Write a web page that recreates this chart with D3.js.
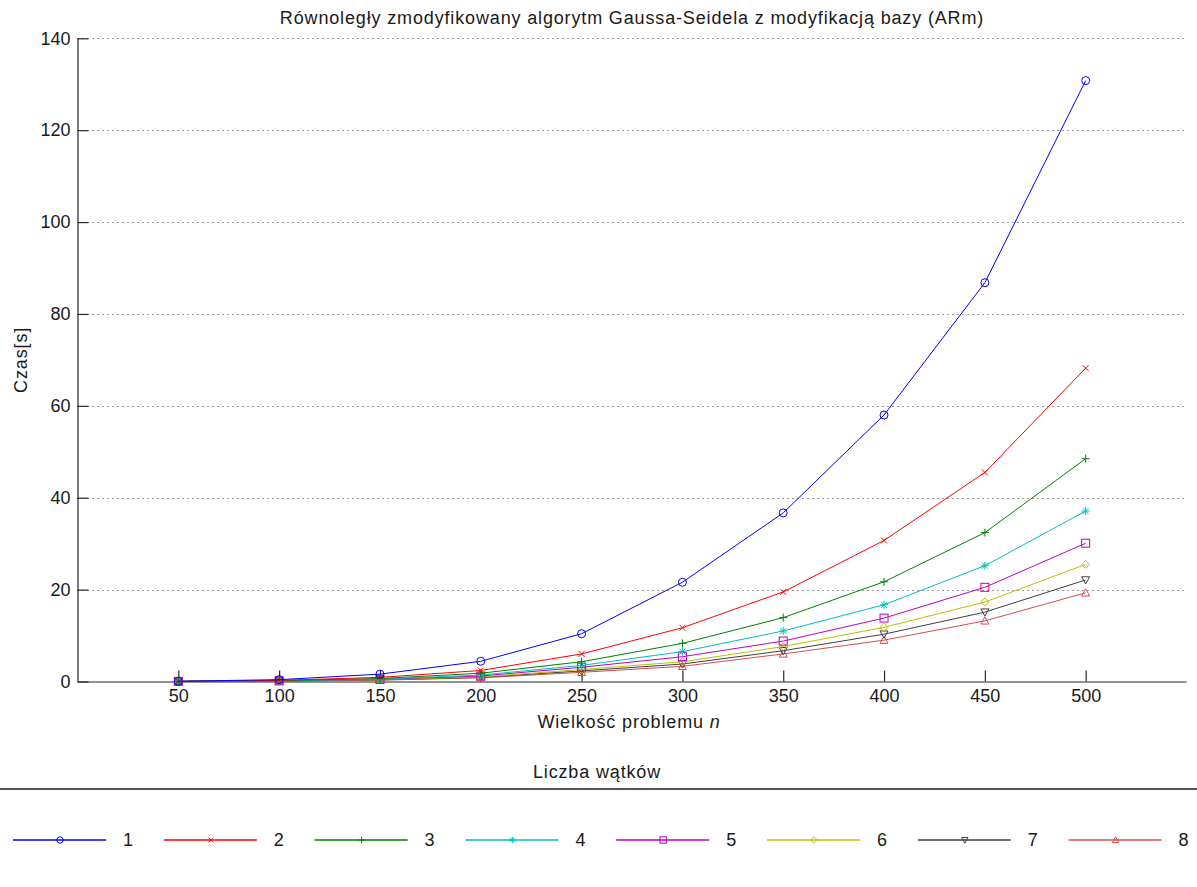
<!DOCTYPE html>
<html>
<head>
<meta charset="utf-8">
<script src="https://cdn.jsdelivr.net/npm/d3@7"></script>
<style>
  html, body { margin: 0; padding: 0; background: #fff; }
  svg { display: block; font-family: "Liberation Sans", Arial, sans-serif; }
  text { fill: #1a1a1a; }
  .lbl { font-size: 18px; letter-spacing: 0.85px; }
  .num { font-size: 18px; }
</style>
</head>
<body>
<svg id="chart" width="1197" height="887"></svg>
<script>
// Problem sizes (n)
const sizes = [50, 100, 150, 200, 250, 300, 350, 400, 450, 500];
// Thread counts shown in the legend
const threads = ["1", "2", "3", "4", "5", "6", "7", "8"];
// Run times [s] for each thread count
const t1 = [0.05, 0.4, 1.6, 4.4, 10.4, 21.6, 36.7, 58.0, 86.8, 130.8];
const t2 = [0.03, 0.25, 0.9, 2.4, 6.0, 11.7, 19.5, 30.7, 45.5, 68.2];
const t3 = [0.03, 0.2, 0.65, 1.8, 4.3, 8.3, 13.9, 21.7, 32.4, 48.5];
const t4 = [0.02, 0.15, 0.5, 1.4, 3.5, 6.5, 11.0, 16.7, 25.2, 37.1];
const t5 = [0.02, 0.13, 0.45, 1.2, 3.1, 5.4, 8.8, 13.8, 20.5, 30.1];
const t6 = [0.02, 0.12, 0.4, 1.0, 2.6, 4.3, 7.6, 11.8, 17.3, 25.5];
const t7 = [0.02, 0.1, 0.35, 0.9, 2.3, 3.8, 6.7, 10.3, 15.1, 22.1];
const t8 = [0.02, 0.1, 0.3, 0.8, 2.0, 3.3, 6.0, 9.0, 13.2, 19.3];
const yTicks = [0, 20, 40, 60, 80, 100, 120, 140];

const seriesValues = [t1, t2, t3, t4, t5, t6, t7, t8];
const colors = ["#0000ff", "#ff0000", "#008000", "#00bfbf", "#bf00bf", "#bfbf00", "#404040", "#d64c4c"];
const shapes = ["circle", "x", "plus", "star", "square", "diamond", "tridown", "triup"];

const svg = d3.select("#chart");
const W = 1197;
const plotLeft = 77.5, plotRight = 1186.5, plotTop = 38.3, plotBottom = 681.5;

const x = d3.scaleLinear().domain([0, 550]).range([plotLeft, plotRight]);
const y = d3.scaleLinear().domain([0, 140]).range([plotBottom, plotTop]);

// Title
svg.append("text")
  .attr("class", "lbl")
  .attr("x", (plotLeft + plotRight) / 2).attr("y", 24)
  .attr("text-anchor", "middle")
  .text("Równoległy zmodyfikowany algorytm Gaussa-Seidela z modyfikacją bazy (ARm)");

// Dotted horizontal grid
svg.append("g")
  .selectAll("line")
  .data(yTicks.filter(d => d > 0))
  .join("line")
  .attr("x1", plotLeft).attr("x2", plotRight)
  .attr("y1", d => Math.round(y(d)) + 0.5).attr("y2", d => Math.round(y(d)) + 0.5)
  .attr("stroke", "#333")
  .attr("stroke-width", 1)
  .attr("stroke-dasharray", "1,4");

// Axes
const yAxis = svg.append("g")
  .attr("transform", `translate(${plotLeft},0)`)
  .call(d3.axisLeft(y).tickValues(yTicks).tickSize(-11).tickSizeOuter(0).tickPadding(7));
const xAxis = svg.append("g")
  .attr("transform", `translate(0,${plotBottom})`)
  .call(d3.axisBottom(x).tickValues(sizes).tickSize(-11).tickSizeOuter(0).tickPadding(8));
// Extend the bottom axis line across the whole plot width
xAxis.select(".domain").attr("d", `M${plotLeft},0.5H${plotRight}`);
yAxis.select(".domain").attr("d", `M0.5,${plotTop}V${plotBottom}`);
[xAxis, yAxis].forEach(a => {
  a.selectAll(".domain, .tick line").attr("stroke", "#262626").attr("stroke-width", 1.2);
  a.selectAll("text").attr("class", "num").attr("fill", "#1a1a1a");
  a.attr("font-family", null).attr("font-size", null);
});

// Axis labels
svg.append("text")
  .attr("class", "lbl")
  .attr("transform", `translate(27,${(plotTop + plotBottom) / 2}) rotate(-90)`)
  .attr("text-anchor", "middle")
  .text("Czas[s]");
const xl = svg.append("text")
  .attr("class", "lbl")
  .attr("x", 629).attr("y", 728)
  .attr("text-anchor", "middle");
xl.append("tspan").text("Wielkość problemu ");
xl.append("tspan").style("font-style", "italic").text("n");

// Marker drawing
function drawMarker(g, shape, color, r) {
  const s = g.append("g");
  const common = el => el.attr("fill", "none").attr("stroke", color).attr("stroke-width", 1);
  switch (shape) {
    case "circle": common(s.append("circle").attr("r", r)); break;
    case "square": common(s.append("rect").attr("x", -r).attr("y", -r).attr("width", 2 * r).attr("height", 2 * r)); break;
    case "diamond": common(s.append("path").attr("d", `M0,${-r}L${r},0L0,${r}L${-r},0Z`)); break;
    case "triup": common(s.append("path").attr("d", `M0,${-r}L${r},${r * 0.8}L${-r},${r * 0.8}Z`)); break;
    case "tridown": common(s.append("path").attr("d", `M0,${r}L${r},${-r * 0.8}L${-r},${-r * 0.8}Z`)); break;
    case "plus": common(s.append("path").attr("d", `M${-r},0H${r}M0,${-r}V${r}`)); break;
    case "x": common(s.append("path").attr("d", `M${-r * 0.75},${-r * 0.75}L${r * 0.75},${r * 0.75}M${-r * 0.75},${r * 0.75}L${r * 0.75},${-r * 0.75}`)); break;
    case "star": {
      const a = r * 0.75;
      common(s.append("path").attr("d", `M${-r},0H${r}M0,${-r}V${r}M${-a},${-a}L${a},${a}M${-a},${a}L${a},${-a}`));
      break;
    }
  }
  return s;
}

// Series lines and markers (drawn so that series 1 ends up on top)
const line = d3.line().x((d, i) => x(sizes[i])).y(d => y(d));
const plot = svg.append("g");
for (let k = seriesValues.length - 1; k >= 0; k--) {
  const vals = seriesValues[k];
  const g = plot.append("g");
  g.append("path")
    .datum(vals)
    .attr("d", line)
    .attr("fill", "none")
    .attr("stroke", colors[k])
    .attr("stroke-width", 1);
  vals.forEach((v, i) => {
    drawMarker(g, shapes[k], colors[k], 4).attr("transform", `translate(${x(sizes[i])},${y(v)})`);
  });
}

// Legend
svg.append("text")
  .attr("class", "lbl")
  .attr("x", 597).attr("y", 778)
  .attr("text-anchor", "middle")
  .text("Liczba wątków");
svg.append("line")
  .attr("x1", 0).attr("x2", W)
  .attr("y1", 789).attr("y2", 789)
  .attr("stroke", "#1a1a1a").attr("stroke-width", 1.6);

const step = 150.8;
const lg = svg.append("g");
threads.forEach((name, k) => {
  const x0 = 13 + step * k;
  const item = lg.append("g");
  item.append("line")
    .attr("x1", x0).attr("x2", x0 + 93)
    .attr("y1", 840).attr("y2", 840)
    .attr("stroke", colors[k]).attr("stroke-width", 1.6);
  drawMarker(item, shapes[k], colors[k], 3.2).attr("transform", `translate(${x0 + 47},840)`);
  item.append("text")
    .attr("class", "num")
    .attr("x", x0 + 115).attr("y", 846)
    .attr("text-anchor", "middle")
    .text(name);
});
</script>
</body>
</html>
